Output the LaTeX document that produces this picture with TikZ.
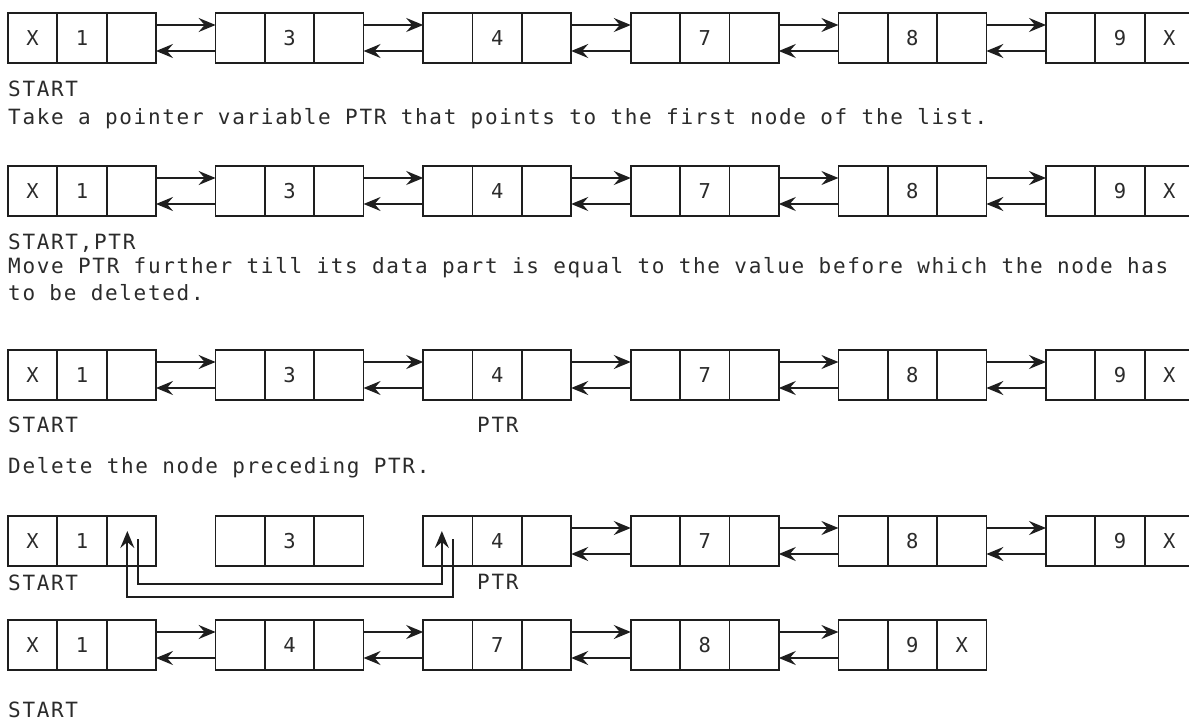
\documentclass[tikz,border=0pt]{standalone}
\usepackage{fontspec}
\newfontfamily\monofam[LetterSpace=8]{DejaVu Sans Mono}
\usetikzlibrary{arrows.meta}
\definecolor{ink}{HTML}{1E1E1E}
\definecolor{txt}{HTML}{2B2B2B}
\tikzset{
 cell/.style={draw=ink, line width=1.7pt, minimum width=49.33pt, minimum height=50pt, inner sep=0pt, outer sep=0pt, font=\monofam\fontsize{20.5}{24}\selectfont, text=txt},
 lnk/.style={draw=ink, line width=1.9pt, -{Stealth[length=17pt,width=14pt,inset=6pt]}},
 lbl/.style={anchor=west, inner sep=0pt, font=\monofam\fontsize{21}{25}\selectfont, text=txt},
}
\newcommand{\listnode}[6]{%
 \node[cell,anchor=north west] (#1a) at (#2,#3) {#4};
 \node[cell,anchor=west] (#1b) at (#1a.east) {#5};
 \node[cell,anchor=west] (#1c) at (#1b.east) {#6};}
\newcommand{\dlink}[2]{%
 \draw[lnk] ([yshift=-12pt]#1c.north east) -- ([yshift=-12pt]#2a.north west);
 \draw[lnk] ([yshift=-38pt]#2a.north west) -- ([yshift=-38pt]#1c.north east);}
\begin{document}
\begin{tikzpicture}[x=1pt,y=-1pt]
\useasboundingbox[fill=white] (0,0) rectangle (1189,722);
% Row 1
\listnode{ra1}{8}{13}{X}{1}{}
\listnode{ra2}{215.6}{13}{}{3}{}
\listnode{ra3}{423.2}{13}{}{4}{}
\listnode{ra4}{630.8}{13}{}{7}{}
\listnode{ra5}{838.4}{13}{}{8}{}
\listnode{ra6}{1046}{13}{}{9}{X}
\dlink{ra1}{ra2}\dlink{ra2}{ra3}\dlink{ra3}{ra4}\dlink{ra4}{ra5}\dlink{ra5}{ra6}
\node[lbl] (t1) at (8,89) {START};
\node[lbl] (t2) at (8,119) {Take a pointer variable PTR that points to the first node of the list.};
% Row 2
\listnode{rb1}{8}{166}{X}{1}{}
\listnode{rb2}{215.6}{166}{}{3}{}
\listnode{rb3}{423.2}{166}{}{4}{}
\listnode{rb4}{630.8}{166}{}{7}{}
\listnode{rb5}{838.4}{166}{}{8}{}
\listnode{rb6}{1046}{166}{}{9}{X}
\dlink{rb1}{rb2}\dlink{rb2}{rb3}\dlink{rb3}{rb4}\dlink{rb4}{rb5}\dlink{rb5}{rb6}
\node[lbl] (t3) at (8,243) {START,PTR};
\node[lbl] (t4) at (8,268) {Move PTR further till its data part is equal to the value before which the node has};
\node[lbl] (t5) at (8,293) {to be deleted.};
% Row 3
\listnode{rc1}{8}{350}{X}{1}{}
\listnode{rc2}{215.6}{350}{}{3}{}
\listnode{rc3}{423.2}{350}{}{4}{}
\listnode{rc4}{630.8}{350}{}{7}{}
\listnode{rc5}{838.4}{350}{}{8}{}
\listnode{rc6}{1046}{350}{}{9}{X}
\dlink{rc1}{rc2}\dlink{rc2}{rc3}\dlink{rc3}{rc4}\dlink{rc4}{rc5}\dlink{rc5}{rc6}
\node[lbl] (t6) at (8,425) {START};
\node[lbl] (t7) at (477,425) {PTR};
\node[lbl] (t8) at (8,468) {Delete the node preceding PTR.};
% Row 4
\listnode{rd1}{8}{516}{X}{1}{}
\listnode{rd2}{215.6}{516}{}{3}{}
\listnode{rd3}{423.2}{516}{}{4}{}
\listnode{rd4}{630.8}{516}{}{7}{}
\listnode{rd5}{838.4}{516}{}{8}{}
\listnode{rd6}{1046}{516}{}{9}{X}
\dlink{rd3}{rd4}\dlink{rd4}{rd5}\dlink{rd5}{rd6}
\coordinate (inA) at (0,584);
\coordinate (outB) at (0,597);
\draw[lnk] ([xshift=7pt,yshift=-23pt]rd1c.north) -- ([xshift=7pt]rd1c.north |- inA) -- ([xshift=-6pt]rd3a.north |- inA) -- ([xshift=-6pt,yshift=-15pt]rd3a.north);
\draw[lnk] ([xshift=5pt,yshift=-23pt]rd3a.north) -- ([xshift=5pt]rd3a.north |- outB) -- ([xshift=-4pt]rd1c.north |- outB) -- ([xshift=-4pt,yshift=-15pt]rd1c.north);
\node[lbl] (t9) at (8,583) {START};
\node[lbl] (t10) at (477,582) {PTR};
% Row 5
\listnode{re1}{8}{620}{X}{1}{}
\listnode{re2}{215.6}{620}{}{4}{}
\listnode{re3}{423.2}{620}{}{7}{}
\listnode{re4}{630.8}{620}{}{8}{}
\listnode{re5}{838.4}{620}{}{9}{X}
\dlink{re1}{re2}\dlink{re2}{re3}\dlink{re3}{re4}\dlink{re4}{re5}
\node[lbl] (t11) at (8,710) {START};
\end{tikzpicture}
\end{document}
